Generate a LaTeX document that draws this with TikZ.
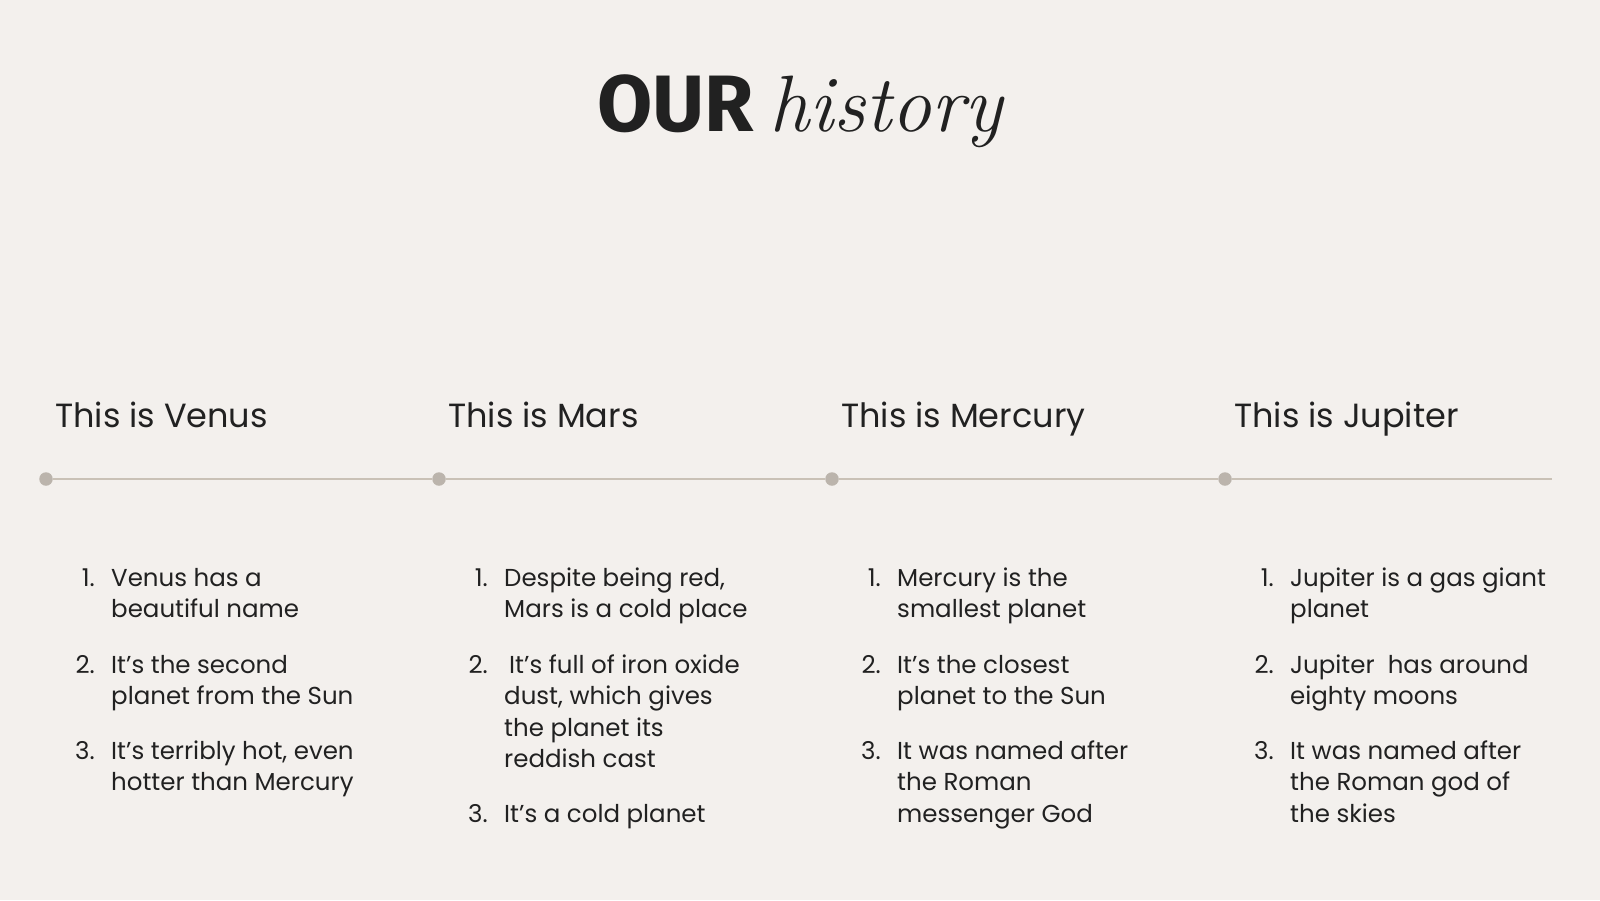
\documentclass[tikz,border=0pt]{standalone}
\usepackage{fontspec}
\newfontfamily\bodyfont{Poppins}
\newfontfamily\titlefont{Fira Sans}
\definecolor{bg}{HTML}{F3F0ED}
\definecolor{ink}{HTML}{212121}
\definecolor{tl}{HTML}{C9C1B6}
\definecolor{dotc}{HTML}{BBB4AC}
\tikzset{
  heading/.style={anchor=base west, inner sep=0pt, text=ink, font=\bodyfont\fontsize{33.5}{40}\selectfont},
  num/.style={anchor=base east, inner sep=0pt, text=ink, font=\bodyfont\fontsize{24.5}{31.6}\selectfont},
  itemtext/.style={anchor=base west, inner sep=0pt, text=ink, align=left, font=\bodyfont\fontsize{24.5}{31.6}\selectfont},
  tdot/.style={circle, fill=dotc, minimum size=13.5pt, inner sep=0pt},
  tline/.style={draw=tl, line width=2pt}
}
\begin{document}
\begin{tikzpicture}[x=1pt,y=-1pt]
\fill[bg] (0,0) rectangle (1600,900);
\useasboundingbox (0,0) rectangle (1600,900);
% title
\node[anchor=base, inner sep=0pt, text=ink] (title) at (800,131)
  {{\titlefont\bfseries\fontsize{80}{80}\selectfont OUR}\hspace{16pt}{\itshape\fontsize{80}{80}\selectfont history}};
% timeline
\node[tdot] (d1) at (46,479) {};
\node[tdot] (d2) at (439,479) {};
\node[tdot] (d3) at (832,479) {};
\node[tdot] (d4) at (1225,479) {};
\coordinate (tend) at (1552,479);
\draw[tline] (d1) -- (d2);
\draw[tline] (d2) -- (d3);
\draw[tline] (d3) -- (d4);
\draw[tline] (d4) -- (tend);
% headings
\node[heading] (h1) at (55,427) {This is Venus};
\node[heading] (h2) at (448,427) {This is Mars};
\node[heading] (h3) at (841,427) {This is Mercury};
\node[heading] (h4) at (1234,427) {This is Jupiter};
% column 1 (text nodes anchored at the baseline of their last line)
\node[num] (n11) at (95,586) {1.};
\node[itemtext] (t11) at (111,617.6) {Venus has a\\beautiful name};
\node[num] (n12) at (95,673) {2.};
\node[itemtext] (t12) at (111,704.6) {It’s the second\\planet from the Sun};
\node[num] (n13) at (95,759) {3.};
\node[itemtext] (t13) at (111,790.6) {It’s terribly hot, even\\hotter than Mercury};
% column 2
\node[num] (n21) at (488,586) {1.};
\node[itemtext] (t21) at (504,617.6) {Despite being red,\\Mars is a cold place};
\node[num] (n22) at (488,673) {2.};
\node[itemtext] (t22) at (504,767.8) {\hspace{5pt}It’s full of iron oxide\\dust, which gives\\the planet its\\reddish cast};
\node[num] (n23) at (488,822) {3.};
\node[itemtext] (t23) at (504,822) {It’s a cold planet};
% column 3
\node[num] (n31) at (881,586) {1.};
\node[itemtext] (t31) at (897,617.6) {Mercury is the\\smallest planet};
\node[num] (n32) at (881,673) {2.};
\node[itemtext] (t32) at (897,704.6) {It’s the closest\\planet to the Sun};
\node[num] (n33) at (881,759) {3.};
\node[itemtext] (t33) at (897,822.2) {It was named after\\the Roman\\messenger God};
% column 4
\node[num] (n41) at (1274,586) {1.};
\node[itemtext] (t41) at (1290,617.6) {Jupiter is a gas giant\\planet};
\node[num] (n42) at (1274,673) {2.};
\node[itemtext] (t42) at (1290,704.6) {Jupiter\ \ has around\\eighty moons};
\node[num] (n43) at (1274,759) {3.};
\node[itemtext] (t43) at (1290,822.2) {It was named after\\the Roman god of\\the skies};
\end{tikzpicture}
\end{document}
